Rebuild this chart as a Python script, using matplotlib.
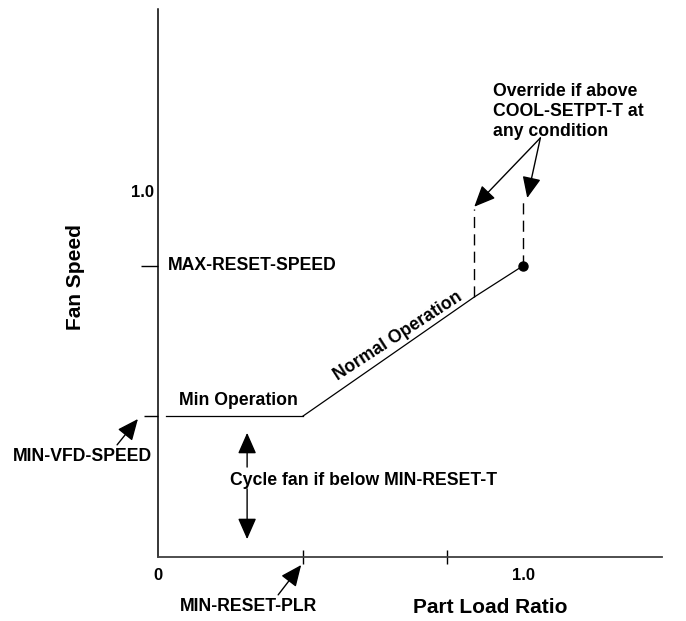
import matplotlib
matplotlib.use("Agg")
import matplotlib.pyplot as plt

plt.rcParams['font.family'] = ['Liberation Sans', 'DejaVu Sans']
plt.rcParams['font.weight'] = 'bold'

# ---- control schedule values (fractions of full load / full speed) ----
MIN_VFD_SPEED = 0.387
MAX_RESET_SPEED = 0.80
MIN_RESET_PLR = 0.397
MID_TICK_PLR = 0.79

# fan speed vs part load ratio
min_op_plr = [0.022, MIN_RESET_PLR]
min_op_speed = [MIN_VFD_SPEED, MIN_VFD_SPEED]
normal_plr = [MIN_RESET_PLR, 0.866, 1.0]
normal_speed = [MIN_VFD_SPEED, 0.714, MAX_RESET_SPEED]

# override region (dashed verticals)
override_plr = [0.866, 1.0]
override_low = [0.714, MAX_RESET_SPEED]
override_high = [0.957, 0.982]

fsz = 12.7
fig = plt.figure(figsize=(6.86, 6.21), dpi=100)
ax = fig.add_axes([158 / 686, 64 / 621, 504 / 686, 548 / 621])
ax.set_xlim(0, 1.38)
ax.set_ylim(0, 1.505)

for s in ['top', 'right']:
    ax.spines[s].set_visible(False)
ax.spines['left'].set_linewidth(1.1)
ax.spines['bottom'].set_linewidth(1.3)
ax.spines['bottom'].set_color('#404040')

# ticks without labels; labels are placed as text below
ax.set_xticks([MIN_RESET_PLR, MID_TICK_PLR])
ax.set_xticklabels(['', ''])
ax.tick_params(axis='x', direction='inout', length=10, width=1, color='black')
ax.set_yticks([MIN_VFD_SPEED, MAX_RESET_SPEED])
ax.set_yticklabels(['', ''])
ax.tick_params(axis='y', direction='out', length=12, width=1, color='black')
ax.yaxis.get_major_ticks()[0].tick1line.set_color('#808080')
ax.yaxis.get_major_ticks()[0].tick1line.set_markersize(10)

xt = ax.get_xaxis_transform()
yt = ax.get_yaxis_transform()
ax.text(0, -0.02, '0', transform=xt, ha='center', va='top', fontsize=12)
ax.text(1.0, -0.02, '1.0', transform=xt, ha='center', va='top', fontsize=12)
ax.text(-0.008, 1.0, '1.0', transform=yt, ha='right', va='center', fontsize=12)

# schedule curve
ax.plot(min_op_plr, min_op_speed, color='black', lw=0.9)
ax.plot(normal_plr, normal_speed, color='black', lw=0.9)
ax.plot([1.0], [MAX_RESET_SPEED], 'o', color='black', ms=6.5)
for x, y0, y1 in zip(override_plr, override_low, override_high):
    ax.plot([x, x], [y0, y1], color='black', lw=1, linestyle=(0, (8, 4.5)))

# labels
ax.text(0.027, MAX_RESET_SPEED, 'MAX-RESET-SPEED', ha='left', va='center', fontsize=fsz)
ax.text(-0.208, 0.275, 'MIN-VFD-SPEED', ha='center', va='center', fontsize=fsz, clip_on=False)
ax.text(0.058, 0.429, 'Min Operation', ha='left', va='center', fontsize=fsz)
ax.text(0.197, 0.209, 'Cycle fan if below MIN-RESET-T', ha='left', va='center', fontsize=fsz)
ax.text(0.658, 0.607, 'Normal Operation', ha='center', va='center', fontsize=fsz,
        rotation=33, rotation_mode='anchor')
ax.text(0.918, 1.302, 'Override if above\nCOOL-SETPT-T at\nany condition',
        ha='left', va='top', fontsize=fsz, linespacing=1.22)
ax.text(0.249, -0.137, 'MIN-RESET-PLR', ha='center', va='center', fontsize=fsz, clip_on=False)
ax.text(0.91, -0.14, 'Part Load Ratio', ha='center', va='center', fontsize=15, clip_on=False)
ax.text(-0.227, 0.769, 'Fan Speed', ha='center', va='center', fontsize=15,
        rotation=90, clip_on=False)

arrow = dict(arrowstyle='-|>,head_length=0.5,head_width=0.22', mutation_scale=26,
             lw=1, color='black', shrinkA=0, shrinkB=0)
# pointer arrows
ax.annotate('', xy=(-0.055, 0.379), xytext=(-0.112, 0.308), arrowprops=arrow,
            annotation_clip=False)
ax.annotate('', xy=(MIN_RESET_PLR - 0.005, -0.022), xytext=(0.329, -0.104),
            arrowprops=arrow, annotation_clip=False)
ax.annotate('', xy=(override_plr[0], 0.962), xytext=(1.047, 1.151), arrowprops=arrow)
ax.annotate('', xy=(1.011, 0.986), xytext=(1.047, 1.151), arrowprops=arrow)
# cycle fan band
ax.annotate('', xy=(0.244, 0.341), xytext=(0.244, 0.247), arrowprops=arrow)
ax.annotate('', xy=(0.244, 0.049), xytext=(0.244, 0.187), arrowprops=arrow)

fig.savefig('out.png', dpi=100)
